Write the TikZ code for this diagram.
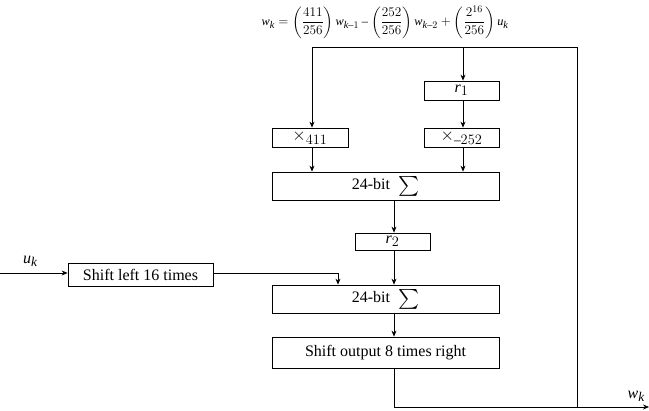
\documentclass[tikz,border=0pt]{standalone}
\usepackage{amsmath}
\usepackage{fontspec}
\setmainfont{Liberation Serif}
\usepackage[italic]{mathastext}
\usetikzlibrary{arrows.meta}
\newcommand{\bigsig}{\raisebox{-1pt}{\scalebox{1.15}{$\sum$}}}
\begin{document}
\begin{tikzpicture}[x=1pt,y=-1pt,
  font=\fontsize{16}{19}\selectfont,
  blk/.style={draw,line width=0.8pt,inner sep=0pt},
  ln/.style={line width=0.7pt},
  arr/.style={ln,-{Stealth[length=6pt,width=5pt]}}]
\useasboundingbox (0,0) rectangle (649,411);
% equation
\node[font=\fontsize{13.4}{16}\selectfont,inner sep=0pt] (eq) at (385,22) {\scalebox{0.92}{$w_k=\left(\dfrac{411}{256}\right)w_{k-1}-\left(\dfrac{252}{256}\right)w_{k-2}+\left(\dfrac{2^{16}}{256}\right)u_k$}};
% boxes
\node[blk,minimum width=76,minimum height=19] (m411) at (310,137.5) {$\times_{411}$};
\node[blk,minimum width=75,minimum height=19] (r1) at (461.5,90.5) {$r_1$};
\node[blk,minimum width=75,minimum height=19] (m252) at (461.5,137.5) {$\times_{-252}$};
\node[blk,minimum width=227,minimum height=28] (s1) at (385.5,186) {24-bit \ \bigsig};
\node[blk,minimum width=75,minimum height=17] (r2) at (392.5,241.5) {$r_2$};
\node[blk,minimum width=227,minimum height=28] (s2) at (385.5,299) {24-bit \ \bigsig};
\node[blk,minimum width=145,minimum height=23] (sl) at (140.5,274.5) {Shift left 16 times};
\node[blk,minimum width=227,minimum height=31] (so) at (385.5,352.5) {Shift output 8 times right};
% coordinates
\coordinate (tl) at (312,47);
\coordinate (tm) at (463,47);
\coordinate (tr) at (577,47);
\coordinate (br) at (577,407);
\coordinate (bl) at (394,407);
\coordinate (out) at (649,407);
\coordinate (in) at (0,273);
\coordinate (sj) at (338,273);
% connectors
\draw[ln] (tl) -- (tr) -- (br);
\draw[arr] (tl) -- (m411.north -| tl);
\draw[arr] (tm) -- (r1.north -| tm);
\draw[arr] (r1.south -| tm) -- (m252.north -| tm);
\draw[arr] (m411.south -| tl) -- (s1.north -| tl);
\draw[arr] (m252.south -| tm) -- (s1.north -| tm);
\draw[arr] (s1.south -| bl) -- (r2.north -| bl);
\draw[arr] (r2.south -| bl) -- (s2.north -| bl);
\draw[arr] (s2.south -| bl) -- (so.north -| bl);
\draw[arr] (in) -- (sl.west |- in) node[pos=0.45,above=3pt] {$u_k$};
\draw[arr] (sl.east |- sj) -- (sj) -- (s2.north -| sj);
\draw[arr] (so.south -| bl) -- (bl) -- (out) node[pos=0.95,above=2pt] {$w_k$};
\end{tikzpicture}
\end{document}
